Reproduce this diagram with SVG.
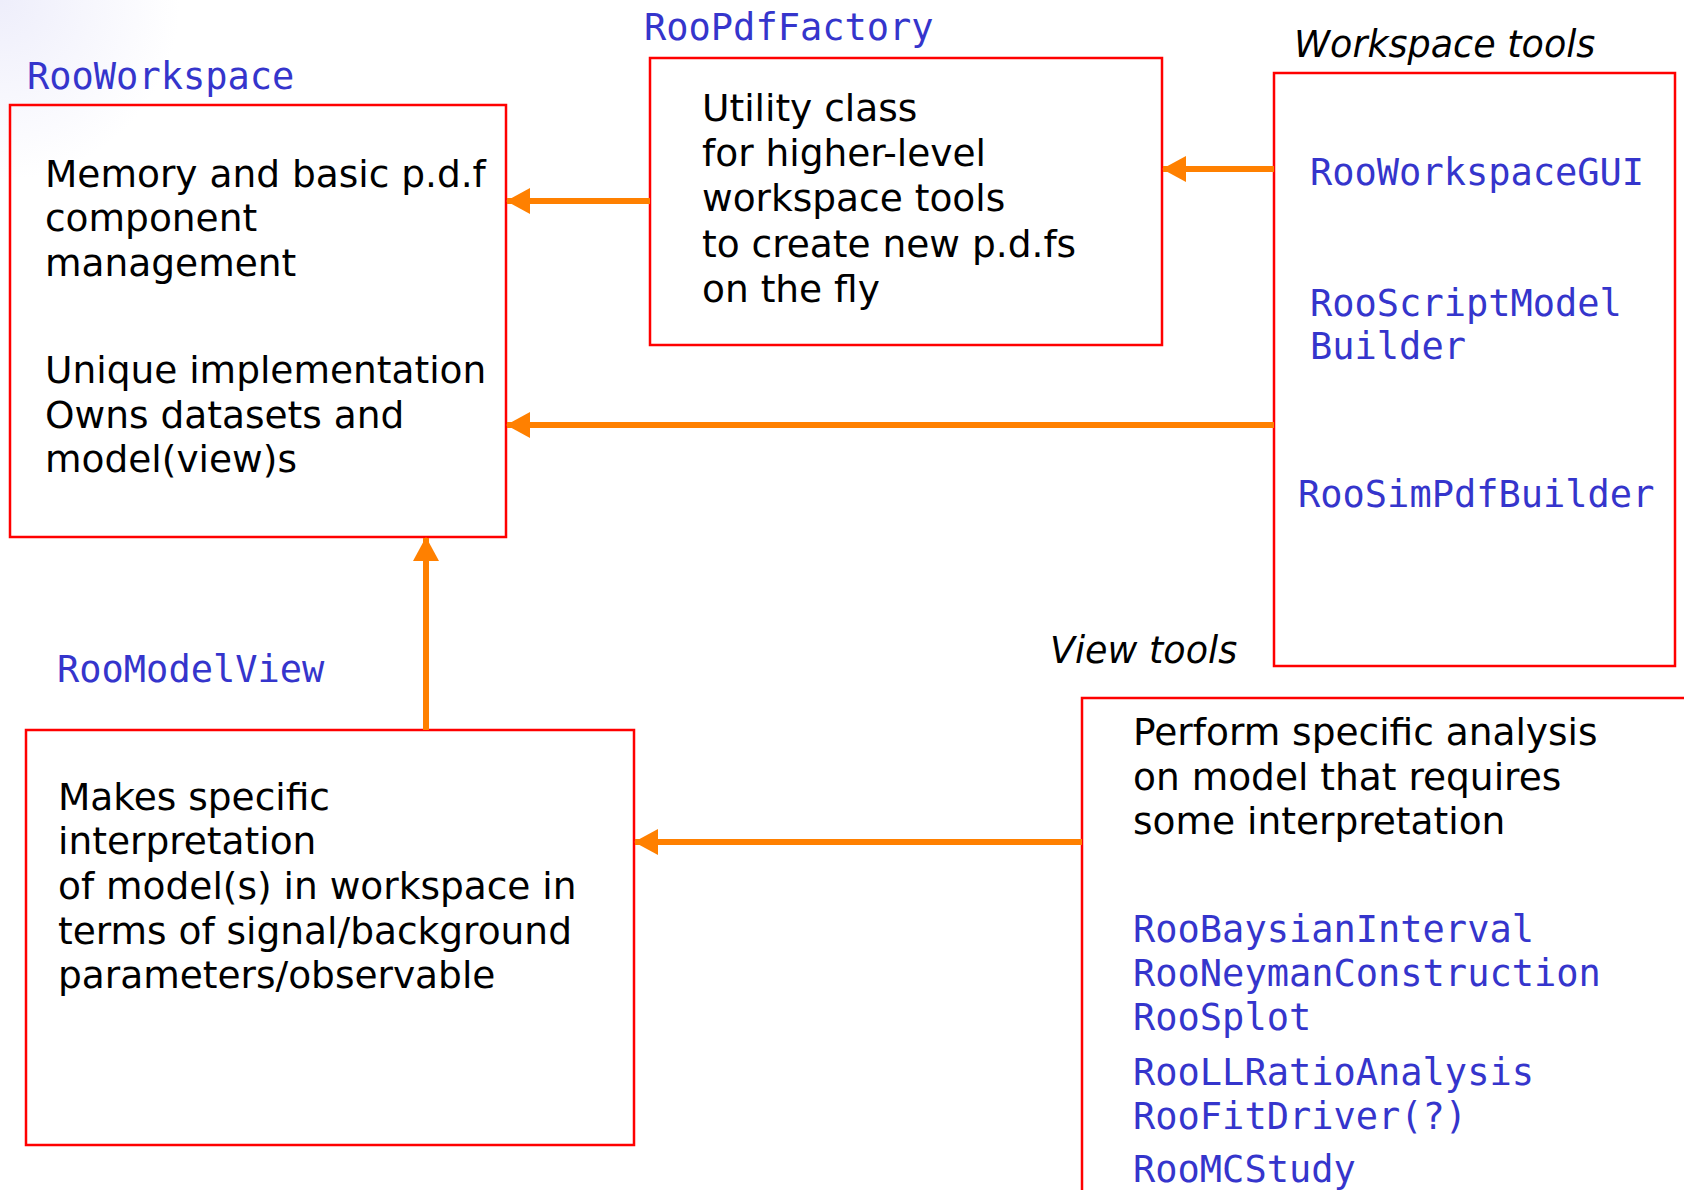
<svg xmlns="http://www.w3.org/2000/svg" width="1684" height="1190" viewBox="0 0 1684 1190">
<defs>
<radialGradient id="bg" cx="0" cy="0" r="180" gradientUnits="userSpaceOnUse">
<stop offset="0" stop-color="#eeeefb"/>
<stop offset="1" stop-color="#ffffff"/>
</radialGradient>
<marker id="arr" viewBox="0 0 24 26" refX="23" refY="13" markerWidth="24" markerHeight="26" orient="auto" markerUnits="userSpaceOnUse">
<path d="M0,0 L24,13 L0,26 z" fill="#ff8000"/>
</marker>
</defs>
<style>
.box{fill:none;stroke:#ff0000;stroke-width:2.5}
.t{font-family:"DejaVu Sans","Liberation Sans",sans-serif;font-size:37.5px;fill:#000}
.it{font-family:"DejaVu Sans","Liberation Sans",sans-serif;font-size:36.5px;font-style:italic;fill:#000}
.m{font-family:"DejaVu Sans Mono","Liberation Mono",monospace;font-size:37px;fill:#3535cc}
.c{stroke:#ff8000;stroke-width:6;fill:none;marker-end:url(#arr)}
</style>
<rect x="0" y="0" width="1684" height="1190" fill="#ffffff"/>
<rect x="0" y="0" width="200" height="200" fill="url(#bg)"/>

<g id="rooworkspace">
<text class="m" x="27" y="89">RooWorkspace</text>
<rect class="box" x="10" y="105" width="496" height="432"/>
<text class="t" x="45" y="187">Memory and basic p.d.f</text>
<text class="t" x="45" y="231">component</text>
<text class="t" x="45" y="276">management</text>
<text class="t" x="45" y="383">Unique implementation</text>
<text class="t" x="45" y="428">Owns datasets and</text>
<text class="t" x="45" y="472">model(view)s</text>
</g>

<g id="roopdffactory">
<text class="m" x="644" y="40">RooPdfFactory</text>
<rect class="box" x="650" y="58" width="512" height="287"/>
<text class="t" x="702" y="121">Utility class</text>
<text class="t" x="702" y="166">for higher-level</text>
<text class="t" x="702" y="211">workspace tools</text>
<text class="t" x="702" y="257">to create new p.d.fs</text>
<text class="t" x="702" y="302">on the fly</text>
</g>

<g id="workspacetools">
<text class="it" x="1294" y="57">Workspace tools</text>
<rect class="box" x="1274" y="73" width="401" height="593"/>
<text class="m" x="1310" y="185">RooWorkspaceGUI</text>
<text class="m" x="1310" y="316">RooScriptModel</text>
<text class="m" x="1310" y="359">Builder</text>
<text class="m" x="1298" y="507">RooSimPdfBuilder</text>
</g>

<g id="roomodelview">
<text class="m" x="57" y="682">RooModelView</text>
<rect class="box" x="26" y="730" width="608" height="415"/>
<text class="t" x="58" y="810">Makes specific</text>
<text class="t" x="58" y="854">interpretation</text>
<text class="t" x="58" y="899">of model(s) in workspace in</text>
<text class="t" x="58" y="944">terms of signal/background</text>
<text class="t" x="58" y="988">parameters/observable</text>
</g>

<g id="viewtools">
<text class="it" x="1050" y="663">View tools</text>
<rect class="box" x="1082" y="698" width="640" height="560"/>
<text class="t" x="1133" y="745">Perform specific analysis</text>
<text class="t" x="1133" y="790">on model that requires</text>
<text class="t" x="1133" y="834">some interpretation</text>
<text class="m" x="1133" y="942">RooBaysianInterval</text>
<text class="m" x="1133" y="986">RooNeymanConstruction</text>
<text class="m" x="1133" y="1030">RooSplot</text>
<text class="m" x="1133" y="1085">RooLLRatioAnalysis</text>
<text class="m" x="1133" y="1129">RooFitDriver(?)</text>
<text class="m" x="1133" y="1182">RooMCStudy</text>
</g>

<g id="connectors">
<line class="c" x1="650" y1="201" x2="507" y2="201"/>
<line class="c" x1="1274" y1="169" x2="1163" y2="169"/>
<line class="c" x1="1274" y1="425" x2="507" y2="425"/>
<line class="c" x1="426" y1="730" x2="426" y2="538"/>
<line class="c" x1="1082" y1="842" x2="635" y2="842"/>
</g>
</svg>
